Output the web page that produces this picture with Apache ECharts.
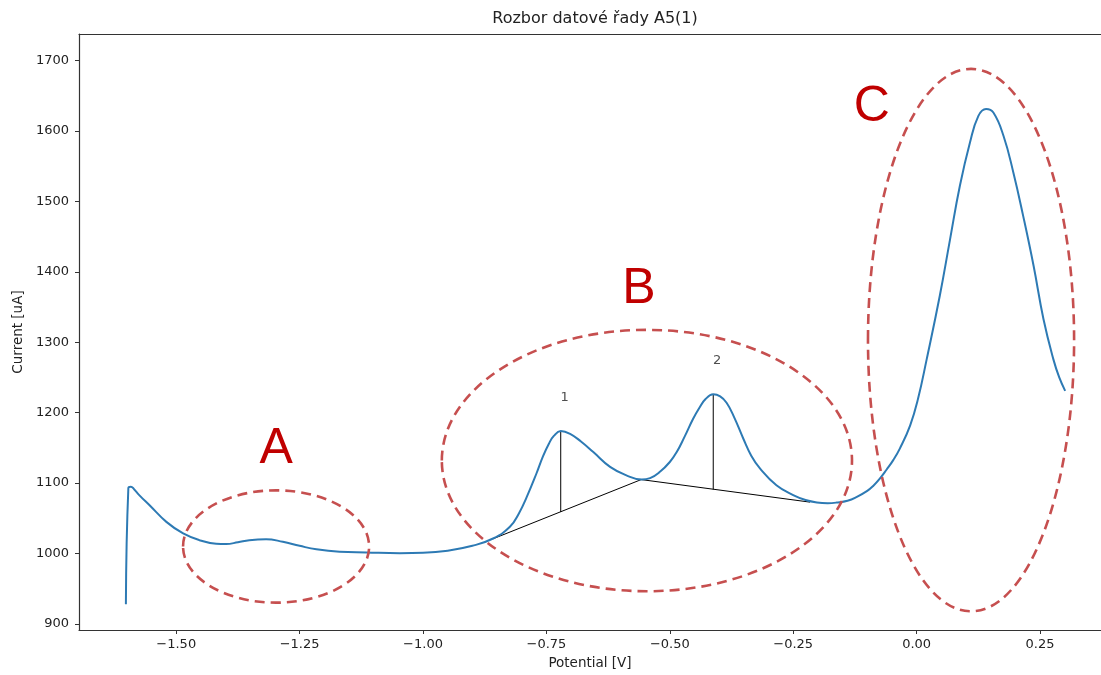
<!DOCTYPE html>
<html>
<head>
<meta charset="utf-8">
<script src="https://cdn.jsdelivr.net/npm/echarts@6/dist/echarts.min.js"></script>
<style>
  html, body { margin: 0; padding: 0; background: #ffffff; }
  #chart { width: 1101px; height: 675px; }
</style>
</head>
<body>
<div id="chart"></div>
<script>
// Voltammogram of series A5(1): potential [V] vs current [uA]
const potential = [
  -1.602, -1.597, -1.592, -1.585, -1.575, -1.554, -1.520, -1.486, -1.453, -1.419,
  -1.399, -1.375, -1.352, -1.318, -1.284, -1.250, -1.216, -1.169, -1.115, -1.047,
  -1.000, -0.950, -0.900, -0.858, -0.824, -0.805, -0.790, -0.770, -0.757, -0.745,
  -0.735, -0.721, -0.702, -0.680, -0.655, -0.621, -0.588, -0.557, -0.540, -0.520,
  -0.500, -0.486, -0.470, -0.453, -0.440, -0.428, -0.412, -0.398, -0.385, -0.370,
  -0.351, -0.335, -0.317, -0.284, -0.250, -0.225, -0.202, -0.180, -0.162, -0.140,
  -0.121, -0.100, -0.088, -0.075, -0.061, -0.047, -0.034, -0.013, 0.003, 0.0205,
  0.047, 0.0675, 0.0877, 0.108, 0.125, 0.1407, 0.1555, 0.176, 0.196, 0.216,
  0.237, 0.257, 0.277, 0.289, 0.301
];
const current = [
  928, 1093, 1095, 1091, 1083, 1068.5, 1045, 1028.5, 1019, 1014,
  1013.5, 1016, 1019, 1020.4, 1016.7, 1011, 1006, 1002.5, 1001.5, 1000.5,
  1001, 1004, 1011, 1021.4, 1038, 1058, 1080, 1114, 1138, 1156,
  1167, 1174, 1170, 1159, 1144, 1123, 1111, 1105, 1107, 1116,
  1130, 1144, 1166, 1191, 1207, 1219, 1226, 1223, 1214, 1194,
  1163, 1139, 1120.5, 1097, 1083, 1076, 1072.5, 1071.5, 1072.4, 1075,
  1080.5, 1089, 1096, 1106, 1119, 1133, 1149, 1182, 1220, 1276,
  1366, 1445, 1522, 1583, 1621, 1631, 1626, 1593, 1541, 1479,
  1408.5, 1333, 1276, 1250, 1231
];

// Detected peaks and their baseline
const peakNames = ['1', '2'];
const peakPotential = [-0.721, -0.412];
const peakCurrent = [1174, 1226];
const peakBaseCurrent = [1059, 1091];
const baselinePotential = [-0.858, -0.558, -0.216];
const baselineCurrent = [1021, 1105, 1073];

// Axis ticks
const xTicks = [-1.5, -1.25, -1.0, -0.75, -0.5, -0.25, 0, 0.25];
const yTicks = [900, 1000, 1100, 1200, 1300, 1400, 1500, 1600, 1700];

// Highlighted regions (centre and half-axes in data units) and their letters
const regionNames = ['A', 'B', 'C'];
const regionCenterPotential = [-1.2977, -0.5464, 0.1103];
const regionCenterCurrent = [1010, 1132, 1303];
const regionHalfWidth = [0.1885, 0.4155, 0.2088];
const regionHalfHeight = [79.7, 185.5, 385];
const letterPotential = [-1.2977, -0.5626, -0.0907];
const letterCurrent = [1147.5, 1375.5, 1633];

const FONT = '"DejaVu Sans", sans-serif';
const AXIS_COLOR = '#333333';
const fmtTick = v => (Math.abs(v) < 1e-9 ? 0 : v).toFixed(2).replace('-', '\u2212');

const chart = echarts.init(document.getElementById('chart'), null, { renderer: 'canvas' });

const series = [
  {
    type: 'line',
    data: baselinePotential.map((p, i) => [p, baselineCurrent[i]]),
    showSymbol: false,
    lineStyle: { color: '#000000', width: 1 },
    silent: true,
    z: 2
  }
];
peakPotential.forEach((p, i) => {
  series.push({
    type: 'line',
    data: [[p, peakBaseCurrent[i]], [p, peakCurrent[i]]],
    showSymbol: false,
    lineStyle: { color: '#000000', width: 1 },
    silent: true,
    z: 2
  });
});
series.push({
  type: 'line',
  data: potential.map((p, i) => [p, current[i]]),
  showSymbol: false,
  smooth: 0.45,
  lineStyle: { color: '#2d7ab4', width: 2 },
  silent: true,
  z: 3
});
series.push({
  type: 'scatter',
  data: peakPotential.map((p, i) => ({ value: [p, peakCurrent[i]], name: peakNames[i] })),
  symbolSize: 0,
  label: {
    show: true,
    position: 'top',
    offset: [4, -22],
    formatter: d => d.name,
    fontFamily: FONT,
    fontSize: 13,
    color: '#222222'
  },
  silent: true,
  z: 4
});

const X_MIN = -1.697, X_MAX = 0.3736;

chart.setOption({
  animation: false,
  backgroundColor: '#ffffff',
  grid: { left: 79, top: 34, right: 0, bottom: 43, show: false },
  xAxis: [
    {
      type: 'value',
      position: 'bottom',
      min: X_MIN, max: X_MAX,
      name: 'Potential [V]',
      nameLocation: 'middle',
      nameGap: 26,
      nameTextStyle: { fontFamily: FONT, fontSize: 13.5, color: '#222222' },
      axisLine: { show: true, onZero: false, lineStyle: { color: AXIS_COLOR, width: 1.2 } },
      axisTick: { show: true, length: 4, inside: false, customValues: xTicks, lineStyle: { color: AXIS_COLOR, width: 1 } },
      axisLabel: { customValues: xTicks, formatter: fmtTick, margin: 8, fontFamily: FONT, fontSize: 13, color: '#222222' },
      splitLine: { show: false }
    },
    {
      type: 'value',
      position: 'top',
      min: X_MIN, max: X_MAX,
      axisLine: { show: true, onZero: false, lineStyle: { color: AXIS_COLOR, width: 1.2 } },
      axisTick: { show: false },
      axisLabel: { show: false },
      splitLine: { show: false }
    }
  ],
  yAxis: {
    type: 'value',
    position: 'left',
    min: 891.5, max: 1737.5,
    name: 'Current [uA]',
    nameLocation: 'middle',
    nameGap: 53,
    nameTextStyle: { fontFamily: FONT, fontSize: 13.5, color: '#222222' },
    axisLine: { show: true, onZero: false, lineStyle: { color: AXIS_COLOR, width: 1.2 } },
    axisTick: { show: true, length: 4, inside: false, customValues: yTicks, lineStyle: { color: AXIS_COLOR, width: 1 } },
    axisLabel: { customValues: yTicks, formatter: v => String(v), margin: 10, fontFamily: FONT, fontSize: 13, color: '#222222' },
    splitLine: { show: false }
  },
  series: series
});

// Title, highlighted regions and their letters, placed from data coordinates
const toPx = (x, y) => chart.convertToPixel({ gridIndex: 0 }, [x, y]);
const graphics = [
  {
    type: 'text',
    x: 595, y: 19,
    style: {
      text: 'Rozbor datové řady A5(1)',
      font: '16px "DejaVu Sans", sans-serif',
      fill: '#222222',
      textAlign: 'center',
      textVerticalAlign: 'middle'
    },
    z: 10
  }
];
regionNames.forEach((name, i) => {
  const c = toPx(regionCenterPotential[i], regionCenterCurrent[i]);
  const e = toPx(regionCenterPotential[i] + regionHalfWidth[i], regionCenterCurrent[i] + regionHalfHeight[i]);
  graphics.push({
    type: 'ellipse',
    shape: { cx: c[0], cy: c[1], rx: Math.abs(e[0] - c[0]), ry: Math.abs(c[1] - e[1]) },
    style: { fill: 'none', stroke: '#c64f4f', lineWidth: 2.6, lineDash: [10, 6] },
    silent: true,
    z: 20
  });
  const l = toPx(letterPotential[i], letterCurrent[i]);
  graphics.push({
    type: 'text',
    x: l[0], y: l[1],
    style: {
      text: name,
      font: '50px "Liberation Sans", Arial, sans-serif',
      fill: '#c00000',
      textAlign: 'center',
      textVerticalAlign: 'middle'
    },
    silent: true,
    z: 20
  });
});
chart.setOption({ graphic: graphics });
</script>
</body>
</html>
